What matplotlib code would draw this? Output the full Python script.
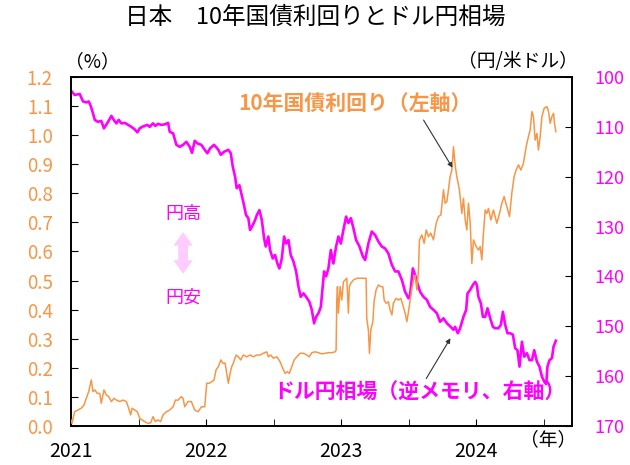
import numpy as np
import matplotlib.pyplot as plt
from matplotlib.ticker import FixedLocator, FormatStrFormatter

plt.rcParams['font.family'] = ['Noto Sans CJK JP', 'DejaVu Sans']

# ドル円 (decimal year, yen per dollar)
fx_t = [2021.002, 2021.027, 2021.064, 2021.089, 2021.113, 2021.131, 2021.146, 2021.163, 2021.176, 2021.200,
        2021.224, 2021.244, 2021.274, 2021.299, 2021.319, 2021.336, 2021.353, 2021.373, 2021.398, 2021.422,
        2021.447, 2021.472, 2021.491, 2021.509, 2021.526, 2021.546, 2021.565, 2021.583, 2021.607, 2021.624,
        2021.644, 2021.669, 2021.694, 2021.719, 2021.731, 2021.756, 2021.780, 2021.805, 2021.830, 2021.854,
        2021.879, 2021.896, 2021.916, 2021.941, 2021.965, 2021.990, 2022.010, 2022.030, 2022.059, 2022.091,
        2022.109, 2022.133, 2022.165, 2022.183, 2022.198, 2022.215, 2022.227, 2022.247, 2022.264, 2022.281,
        2022.296, 2022.313, 2022.326, 2022.346, 2022.363, 2022.376, 2022.395, 2022.413, 2022.430, 2022.442,
        2022.461, 2022.474, 2022.494, 2022.511, 2022.528, 2022.543, 2022.561, 2022.578, 2022.593, 2022.610,
        2022.627, 2022.647, 2022.667, 2022.684, 2022.701, 2022.721, 2022.741, 2022.765, 2022.783, 2022.800,
        2022.815, 2022.832, 2022.850, 2022.864, 2022.874, 2022.889, 2022.906, 2022.924, 2022.943, 2022.963,
        2022.980, 2022.998, 2023.017, 2023.037, 2023.054, 2023.072, 2023.091, 2023.111, 2023.136, 2023.161,
        2023.178, 2023.202, 2023.227, 2023.252, 2023.276, 2023.301, 2023.326, 2023.350, 2023.376, 2023.400,
        2023.424, 2023.450, 2023.474, 2023.499, 2023.511, 2023.531, 2023.548, 2023.565, 2023.585, 2023.610,
        2023.635, 2023.659, 2023.684, 2023.709, 2023.733, 2023.758, 2023.783, 2023.807, 2023.832, 2023.844,
        2023.864, 2023.881, 2023.906, 2023.926, 2023.936, 2023.956, 2023.976, 2023.993, 2024.005, 2024.017,
        2024.035, 2024.050, 2024.067, 2024.084, 2024.104, 2024.124, 2024.141, 2024.165, 2024.183, 2024.198,
        2024.215, 2024.232, 2024.252, 2024.272, 2024.289, 2024.306, 2024.321, 2024.339, 2024.356, 2024.376,
        2024.395, 2024.413, 2024.430, 2024.450, 2024.469, 2024.487, 2024.504, 2024.519, 2024.528, 2024.543,
        2024.561, 2024.573, 2024.590]
fx_v = [102.8, 103.6, 103.4, 104.9, 105.1, 104.9, 105.8, 107.3, 108.6, 109.0,
        108.8, 110.3, 109.0, 107.8, 108.7, 109.3, 108.6, 109.3, 109.2, 109.6,
        110.0, 110.5, 111.1, 110.3, 110.0, 109.8, 109.6, 110.0, 109.3, 109.8,
        109.4, 109.6, 109.5, 109.2, 111.0, 111.3, 113.6, 114.0, 113.6, 113.0,
        114.0, 115.2, 112.8, 113.4, 113.6, 114.6, 115.3, 114.3, 113.6, 114.6,
        115.6, 115.0, 114.6, 115.3, 118.0, 120.0, 122.3, 121.7, 123.7, 125.7,
        127.7, 128.3, 130.7, 129.7, 128.7, 127.7, 126.7, 128.7, 132.4, 134.0,
        132.0, 134.7, 136.4, 135.7, 137.4, 138.4, 136.4, 132.0, 133.4, 132.7,
        135.7, 137.0, 139.0, 142.0, 144.1, 143.4, 144.1, 145.1, 146.7, 149.4,
        148.1, 147.4, 146.1, 142.0, 139.0, 140.0, 138.4, 134.7, 137.4, 134.0,
        132.0, 133.4, 130.7, 128.0, 129.3, 128.3, 130.3, 132.7, 134.0, 136.0,
        136.7, 133.4, 131.0, 131.7, 133.0, 134.0, 134.4, 135.4, 137.7, 139.0,
        139.0, 140.7, 143.1, 144.4, 143.7, 138.4, 139.7, 141.4, 143.1, 144.1,
        144.7, 146.1, 146.7, 147.4, 149.1, 148.4, 149.4, 150.0, 150.7, 150.1,
        151.4, 150.4, 148.1, 146.7, 143.4, 142.7, 141.7, 141.1, 141.7, 144.1,
        145.4, 148.1, 148.1, 146.4, 148.4, 150.1, 150.4, 150.4, 149.7, 147.1,
        149.7, 151.4, 151.4, 151.7, 154.4, 154.8, 158.1, 153.1, 156.1, 155.4,
        156.8, 156.8, 154.8, 157.1, 158.1, 160.1, 161.1, 161.6, 158.1, 156.8,
        156.4, 154.1, 152.9]

# 10年国債利回り (decimal year, %)
jgb_t = [2021.000, 2021.007, 2021.027, 2021.052, 2021.076, 2021.096, 2021.113, 2021.131, 2021.150, 2021.163,
         2021.176, 2021.195, 2021.213, 2021.224, 2021.244, 2021.261, 2021.279, 2021.299, 2021.319, 2021.336,
         2021.361, 2021.385, 2021.410, 2021.427, 2021.442, 2021.452, 2021.472, 2021.491, 2021.509, 2021.526,
         2021.546, 2021.570, 2021.590, 2021.607, 2021.624, 2021.644, 2021.664, 2021.681, 2021.706, 2021.731,
         2021.756, 2021.773, 2021.793, 2021.817, 2021.830, 2021.842, 2021.867, 2021.891, 2021.916, 2021.941,
         2021.965, 2021.990, 2022.005, 2022.024, 2022.042, 2022.059, 2022.074, 2022.091, 2022.109, 2022.124,
         2022.141, 2022.153, 2022.165, 2022.178, 2022.190, 2022.202, 2022.222, 2022.239, 2022.257, 2022.276,
         2022.301, 2022.326, 2022.350, 2022.376, 2022.400, 2022.424, 2022.450, 2022.461, 2022.479, 2022.499,
         2022.524, 2022.548, 2022.568, 2022.585, 2022.602, 2022.617, 2022.635, 2022.652, 2022.672, 2022.696,
         2022.721, 2022.746, 2022.765, 2022.783, 2022.807, 2022.832, 2022.857, 2022.881, 2022.906, 2022.931,
         2022.956, 2022.963, 2022.968, 2022.973, 2022.980, 2022.993, 2023.005, 2023.017, 2023.030, 2023.042,
         2023.054, 2023.061, 2023.072, 2023.091, 2023.116, 2023.165, 2023.185, 2023.190, 2023.202, 2023.210,
         2023.220, 2023.235, 2023.244, 2023.259, 2023.276, 2023.294, 2023.309, 2023.319, 2023.333, 2023.350,
         2023.363, 2023.376, 2023.387, 2023.407, 2023.424, 2023.442, 2023.457, 2023.474, 2023.487, 2023.501,
         2023.511, 2023.524, 2023.536, 2023.548, 2023.561, 2023.573, 2023.580, 2023.598, 2023.615, 2023.630,
         2023.647, 2023.664, 2023.684, 2023.704, 2023.721, 2023.739, 2023.758, 2023.770, 2023.783, 2023.795,
         2023.807, 2023.820, 2023.832, 2023.844, 2023.857, 2023.876, 2023.894, 2023.906, 2023.919, 2023.931,
         2023.943, 2023.956, 2023.968, 2023.980, 2024.000, 2024.017, 2024.030, 2024.042, 2024.054, 2024.067,
         2024.079, 2024.091, 2024.109, 2024.128, 2024.153, 2024.173, 2024.190, 2024.207, 2024.227, 2024.247,
         2024.264, 2024.281, 2024.296, 2024.313, 2024.331, 2024.350, 2024.370, 2024.387, 2024.400, 2024.413,
         2024.424, 2024.437, 2024.450, 2024.461, 2024.474, 2024.487, 2024.504, 2024.524, 2024.536, 2024.548,
         2024.561, 2024.573, 2024.580, 2024.590]
jgb_v = [0.021, 0.009, 0.049, 0.055, 0.061, 0.072, 0.095, 0.118, 0.158, 0.118,
         0.124, 0.112, 0.112, 0.078, 0.124, 0.107, 0.101, 0.084, 0.095, 0.089,
         0.084, 0.089, 0.084, 0.061, 0.038, 0.061, 0.055, 0.049, 0.026, 0.021,
         0.015, 0.009, 0.011, 0.032, 0.015, 0.021, 0.015, 0.038, 0.049, 0.055,
         0.066, 0.089, 0.089, 0.101, 0.095, 0.066, 0.084, 0.084, 0.055, 0.049,
         0.066, 0.066, 0.147, 0.147, 0.152, 0.158, 0.193, 0.204, 0.227, 0.216,
         0.216, 0.181, 0.147, 0.181, 0.204, 0.216, 0.244, 0.238, 0.227, 0.244,
         0.238, 0.244, 0.238, 0.244, 0.244, 0.250, 0.255, 0.238, 0.244, 0.233,
         0.238, 0.221, 0.198, 0.181, 0.187, 0.181, 0.204, 0.227, 0.238, 0.250,
         0.250, 0.244, 0.238, 0.252, 0.255, 0.252, 0.248, 0.250, 0.252, 0.252,
         0.255, 0.261, 0.433, 0.479, 0.388, 0.479, 0.433, 0.496, 0.502, 0.508,
         0.388, 0.479, 0.491, 0.502, 0.508, 0.508, 0.508, 0.370, 0.330, 0.250,
         0.330, 0.359, 0.427, 0.468, 0.485, 0.479, 0.479, 0.433, 0.422, 0.427,
         0.399, 0.382, 0.422, 0.439, 0.433, 0.439, 0.416, 0.388, 0.359, 0.399,
         0.433, 0.474, 0.502, 0.519, 0.468, 0.536, 0.640, 0.657, 0.628, 0.674,
         0.651, 0.663, 0.640, 0.697, 0.720, 0.726, 0.812, 0.766, 0.771, 0.812,
         0.857, 0.880, 0.960, 0.898, 0.857, 0.812, 0.731, 0.783, 0.708, 0.674,
         0.766, 0.697, 0.559, 0.640, 0.617, 0.605, 0.617, 0.571, 0.663, 0.743,
         0.731, 0.748, 0.708, 0.743, 0.697, 0.731, 0.766, 0.789, 0.754, 0.720,
         0.800, 0.857, 0.880, 0.898, 0.880, 0.903, 0.960, 0.995, 1.018, 1.081,
         1.064, 0.983, 1.006, 0.949, 0.995, 1.064, 1.093, 1.098, 1.081, 1.041,
         1.064, 1.075, 1.041, 1.012]

years = [2021, 2022, 2023, 2024]
half_years = [2021.5, 2022.5, 2023.5, 2024.5]

orange = '#F79646'
magenta = '#FF00FF'

fig = plt.figure(figsize=(6.3, 4.65), dpi=100)
ax = fig.add_axes([0.1127, 0.0839, 0.7953, 0.7505])
ax2 = ax.twinx()

ax.plot(jgb_t, jgb_v, color=orange, lw=1.1, zorder=3)
ax2.plot(fx_t, fx_v, color=magenta, lw=1.9)
ax.set_zorder(2)
ax.patch.set_visible(False)

ax.set_xlim(2021, 2024.71)
ax.set_ylim(0, 1.2)
ax.set_yticks(np.arange(0, 1.21, 0.1))
ax.yaxis.set_major_formatter(FormatStrFormatter('%.1f'))
ax2.set_ylim(170, 100)
ax2.set_yticks(range(100, 171, 10))

ax.xaxis.set_major_locator(FixedLocator(years))
ax.xaxis.set_minor_locator(FixedLocator(half_years))
ax.set_xticklabels([str(y) for y in years])

ax.tick_params(axis='y', direction='in', length=5, pad=13, labelsize=13.5, labelcolor=orange)
ax.tick_params(axis='x', which='both', direction='in', length=5, pad=11, labelsize=14)
ax2.tick_params(axis='y', direction='in', length=5, pad=16, labelsize=13, labelcolor=magenta)
for a in (ax, ax2):
    for s in a.spines.values():
        s.set_linewidth(1.2)

fig.text(0.5, 0.962, '日本　10年国債利回りとドル円相場', ha='center', va='center', fontsize=17)
fig.text(0.146, 0.868, '（%）', ha='center', va='center', fontsize=13.5)
fig.text(0.822, 0.868, '（円/米ドル）', ha='center', va='center', fontsize=13.5)
fig.text(0.87, 0.054, '（年）', ha='center', va='center', fontsize=13.5)

ax.text(2023.1, 1.105, '10年国債利回り（左軸）', color=orange, fontsize=15,
        fontweight='bold', ha='center', va='center')
ax.annotate('', xy=(2023.835, 0.88), xytext=(2023.6, 1.06),
            arrowprops=dict(arrowstyle='-|>', color='#333333', lw=0.8, mutation_scale=7))
ax.text(2023.58, 0.115, 'ドル円相場（逆メモリ、右軸）', color=magenta, fontsize=15,
        fontweight='bold', ha='center', va='center')
ax.annotate('', xy=(2023.82, 0.31), xytext=(2023.62, 0.155),
            arrowprops=dict(arrowstyle='-|>', color='#333333', lw=0.8, mutation_scale=7))

ax.text(2021.83, 0.73, '円高', color=magenta, fontsize=13, ha='center', va='center')
ax.text(2021.83, 0.44, '円安', color=magenta, fontsize=13, ha='center', va='center')
big_arrow = dict(arrowstyle='simple,head_width=1.0,head_length=0.7,tail_width=0.5',
                 color='#FFCCFF', lw=0, mutation_scale=14, shrinkA=0, shrinkB=0)
ax.annotate('', xy=(2021.83, 0.667), xytext=(2021.83, 0.59), arrowprops=big_arrow)
ax.annotate('', xy=(2021.83, 0.523), xytext=(2021.83, 0.60), arrowprops=big_arrow)

fig.savefig('out.png', dpi=100)
